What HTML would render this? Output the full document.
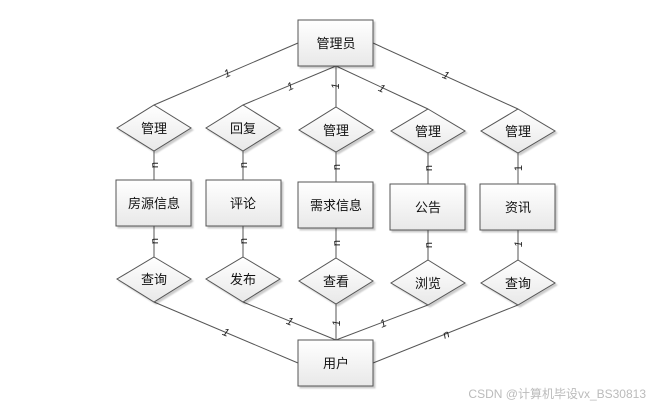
<!DOCTYPE html>
<html><head><meta charset="utf-8"><style>
html,body{margin:0;padding:0;background:#fff;}
svg{display:block;}
text{font-family:"Liberation Sans","Noto Sans CJK SC",sans-serif;}
</style></head><body>
<svg width="660" height="407" viewBox="0 0 660 407" xmlns="http://www.w3.org/2000/svg">
<defs>
<linearGradient id="g" x1="0" y1="0" x2="0" y2="1"><stop offset="0" stop-color="#ffffff"/><stop offset="1" stop-color="#e8e8e8"/></linearGradient>
<filter id="s" x="-10%" y="-10%" width="130%" height="130%"><feDropShadow dx="2" dy="2" stdDeviation="0.8" flood-color="#000" flood-opacity="0.2"/></filter>
</defs>
<g stroke="#555" stroke-width="1" fill="none">
<line x1="298" y1="43" x2="154" y2="105"/>
<line x1="336" y1="66" x2="243" y2="105"/>
<line x1="336" y1="66" x2="336" y2="107"/>
<line x1="336" y1="66" x2="428" y2="109"/>
<line x1="373" y1="43" x2="518" y2="109"/>
<line x1="154" y1="151" x2="154" y2="180"/>
<line x1="243" y1="151" x2="243" y2="180"/>
<line x1="336" y1="152" x2="336" y2="182"/>
<line x1="428" y1="153" x2="428" y2="184"/>
<line x1="518" y1="153" x2="518" y2="184"/>
<line x1="154" y1="226" x2="154" y2="257"/>
<line x1="243" y1="226" x2="243" y2="257"/>
<line x1="336" y1="228" x2="336" y2="258"/>
<line x1="428" y1="230" x2="428" y2="260"/>
<line x1="518" y1="230" x2="518" y2="260"/>
<line x1="154" y1="302" x2="298" y2="363"/>
<line x1="243" y1="302" x2="336" y2="340"/>
<line x1="336" y1="304" x2="336" y2="340"/>
<line x1="428" y1="305" x2="336" y2="340"/>
<line x1="518" y1="305" x2="373" y2="363"/>
</g>
<g fill="url(#g)" stroke="#555" stroke-width="1" filter="url(#s)">
<rect x="298" y="20" width="75" height="46"/>
<rect x="116" y="180" width="75" height="46"/>
<rect x="206" y="180" width="75" height="46"/>
<rect x="298" y="182" width="75" height="46"/>
<rect x="390" y="184" width="75" height="46"/>
<rect x="480" y="184" width="75" height="46"/>
<rect x="298" y="340" width="75" height="46"/>
<polygon points="154,105 191,128 154,151 117,128"/>
<polygon points="243,105 280,128 243,151 206,128"/>
<polygon points="336,107 373,130 336,152 299,130"/>
<polygon points="428,109 465,131 428,153 391,131"/>
<polygon points="518,109 555,131 518,153 481,131"/>
<polygon points="154,257 191,279 154,302 117,279"/>
<polygon points="243,257 280,279 243,302 206,279"/>
<polygon points="336,258 373,281 336,304 299,281"/>
<polygon points="428,260 465,283 428,305 391,283"/>
<polygon points="518,260 555,283 518,305 481,283"/>
</g>
<g font-size="13" fill="#111" text-anchor="middle">
<text x="336" y="48">管理员</text>
<text x="154" y="208">房源信息</text>
<text x="243" y="208">评论</text>
<text x="336" y="210">需求信息</text>
<text x="428" y="212">公告</text>
<text x="518" y="212">资讯</text>
<text x="336" y="368">用户</text>
<text x="154" y="133">管理</text>
<text x="243" y="133">回复</text>
<text x="336" y="135">管理</text>
<text x="428" y="136">管理</text>
<text x="518" y="136">管理</text>
<text x="154" y="284">查询</text>
<text x="243" y="284">发布</text>
<text x="336" y="286">查看</text>
<text x="428" y="288">浏览</text>
<text x="518" y="288">查询</text>
</g>
<g font-size="11" fill="#222" text-anchor="middle" font-style="italic">
<text x="227" y="77" transform="rotate(-23 227 73)">1</text>
<text x="290" y="90" transform="rotate(-23 290 86)">1</text>
<text x="336" y="89" transform="rotate(-90 336 86)">1</text>
<text x="382" y="92" transform="rotate(25 382 88)">1</text>
<text x="446" y="79" transform="rotate(24 446 75)">1</text>
<text x="226" y="336" transform="rotate(23 226 332)">1</text>
<text x="290" y="325" transform="rotate(23 290 321)">1</text>
<text x="336" y="327" transform="rotate(-90 336 323)">1</text>
<text x="383" y="327" transform="rotate(-22 383 323)">1</text>
<text x="446" y="338" transform="rotate(-22 446 334)">n</text>
<text x="518" y="248" transform="rotate(-90 518 244)">1</text>
</g>
<g font-size="11" fill="#222" text-anchor="middle">
<text x="154" y="169" transform="rotate(-90 154 165)">n</text>
<text x="243" y="169" transform="rotate(-90 243 165)">n</text>
<text x="336" y="171" transform="rotate(-90 336 167)">n</text>
<text x="428" y="172" transform="rotate(-90 428 168)">n</text>
<text x="518" y="172" transform="rotate(-90 518 168)">1</text>
<text x="154" y="245" transform="rotate(-90 154 241)">n</text>
<text x="243" y="245" transform="rotate(-90 243 241)">n</text>
<text x="336" y="247" transform="rotate(-90 336 243)">n</text>
<text x="428" y="249" transform="rotate(-90 428 245)">n</text>
</g>
<text x="646" y="398" font-size="12" fill="#bbb" text-anchor="end">CSDN @计算机毕设vx_BS30813</text>
</svg>
</body></html>
